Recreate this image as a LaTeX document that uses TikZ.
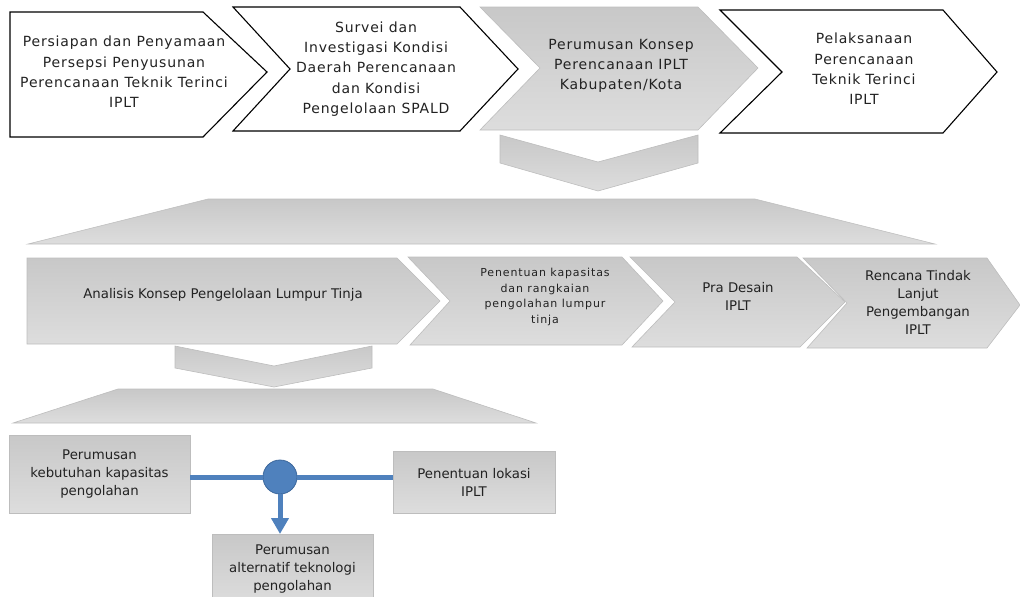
\documentclass[tikz,border=0pt]{standalone}
\usepackage{fontspec}
\setmainfont{DejaVu Sans}
\newfontfamily\spacedfont[LetterSpace=6]{DejaVu Sans}
\newfontfamily\smallspaced[LetterSpace=8]{DejaVu Sans}
\usetikzlibrary{arrows.meta}
\definecolor{gtop}{HTML}{C8C8C8}
\definecolor{gbot}{HTML}{DDDDDD}
\definecolor{gline}{HTML}{BDBDBD}
\definecolor{blu}{HTML}{4F81BD}
\definecolor{bludark}{HTML}{3C679B}
\definecolor{txt}{HTML}{222222}
\tikzset{
  whitechev/.style={draw=black, line width=1.1pt, fill=white, line join=miter},
  graychev/.style={draw=gline, line width=0.6pt, top color=gtop, bottom color=gbot},
  lbl/.style={align=center, text=txt, inner sep=0pt},
  toptxt/.style={lbl, font=\spacedfont\fontsize{14}{20.3}\selectfont},
  midtxt/.style={lbl, font=\fontsize{13.3}{18}\selectfont},
  smalltxt/.style={lbl, font=\smallspaced\fontsize{11}{15.8}\selectfont},
  graybox/.style={draw=gline, line width=0.6pt, top color=gtop, bottom color=gbot, rectangle, inner sep=0pt, align=center, text=txt, font=\fontsize{13.3}{18}\selectfont},
  blueline/.style={draw=blu, line width=5pt},
}
\begin{document}
\begin{tikzpicture}[x=1pt, y=-1pt]
\useasboundingbox (0,0) rectangle (1020,597);
\clip (0,0) rectangle (1020,597);
% top row
\draw[whitechev] (10,12) -- (203,12) -- (267,72) -- (203,137) -- (10,137) -- cycle;
\draw[whitechev] (233,7) -- (460,7) -- (518,69) -- (460,131) -- (233,131) -- (290,69) -- cycle;
\draw[graychev] (480,7) -- (698,7) -- (758,68) -- (698,130) -- (480,130) -- (540,68) -- cycle;
\draw[whitechev] (720,10) -- (943,10) -- (997,72) -- (943,133) -- (720,133) -- (782,72) -- cycle;
\node[toptxt] (t1) at (124,72) {Persiapan dan Penyamaan\\Persepsi Penyusunan\\Perencanaan Teknik Terinci\\IPLT};
\node[toptxt] (t2) at (376,69) {Survei dan\\Investigasi Kondisi\\Daerah Perencanaan\\dan Kondisi\\Pengelolaan SPALD};
\node[toptxt] (t3) at (621,66) {Perumusan Konsep\\Perencanaan IPLT\\Kabupaten/Kota};
\node[toptxt] (t4) at (864,69) {Pelaksanaan\\Perencanaan\\Teknik Terinci\\IPLT};
% down chevron 1 and trapezoid 1
\draw[graychev] (500,135) -- (598,162) -- (698,135) -- (698,163) -- (598,191) -- (500,163) -- cycle;
\draw[graychev] (208,199) -- (755,199) -- (935,244) -- (28,244) -- cycle;
% middle row
\draw[graychev] (27,258) -- (397,258) -- (440,301) -- (397,344) -- (27,344) -- cycle;
\draw[graychev] (408,257) -- (622,257) -- (663,301) -- (622,345) -- (410,345) -- (450,301) -- cycle;
\draw[graychev] (630,257) -- (797,257) -- (845,302) -- (800,347) -- (632,347) -- (675,302) -- cycle;
\draw[graychev] (803,258) -- (987,258) -- (1020,305) -- (987,348) -- (807,348) -- (847,303) -- cycle;
\node[midtxt] (m1) at (223,295) {Analisis Konsep Pengelolaan Lumpur Tinja};
\node[smalltxt] (m2) at (545,297) {Penentuan kapasitas\\dan rangkaian\\pengolahan lumpur\\tinja};
\node[midtxt] (m3) at (738,296) {Pra Desain\\IPLT};
\node[midtxt] (m4) at (918,302) {Rencana Tindak\\Lanjut\\Pengembangan\\IPLT};
% down chevron 2 and trapezoid 2
\draw[graychev] (175,346) -- (274,366) -- (372,346) -- (372,368) -- (274,387) -- (175,368) -- cycle;
\draw[graychev] (118,389) -- (433,389) -- (536,423) -- (13,423) -- cycle;
% bottom boxes
\node[graybox, minimum width=181pt, minimum height=78pt] (b1) at (99.5,474) {Perumusan\\kebutuhan kapasitas\\pengolahan};
\node[graybox, minimum width=162pt, minimum height=62pt] (b2) at (474,482) {Penentuan lokasi\\IPLT};
\node[graybox, minimum width=161pt, minimum height=70pt, anchor=north] (b3) at (292.5,534) {Perumusan\\alternatif teknologi\\pengolahan};
\node[circle, fill=blu, draw=bludark, line width=0.8pt, minimum size=34pt, inner sep=0pt] (hub) at (280,477) {};
\draw[blueline] (b1.east |- hub) -- (hub.west);
\draw[blueline] (hub.east) -- (b2.west |- hub);
\draw[blu, line width=5pt, -{Triangle[width=17pt,length=16pt]}] (hub.south) -- (b3.north -| hub);
\end{tikzpicture}
\end{document}
